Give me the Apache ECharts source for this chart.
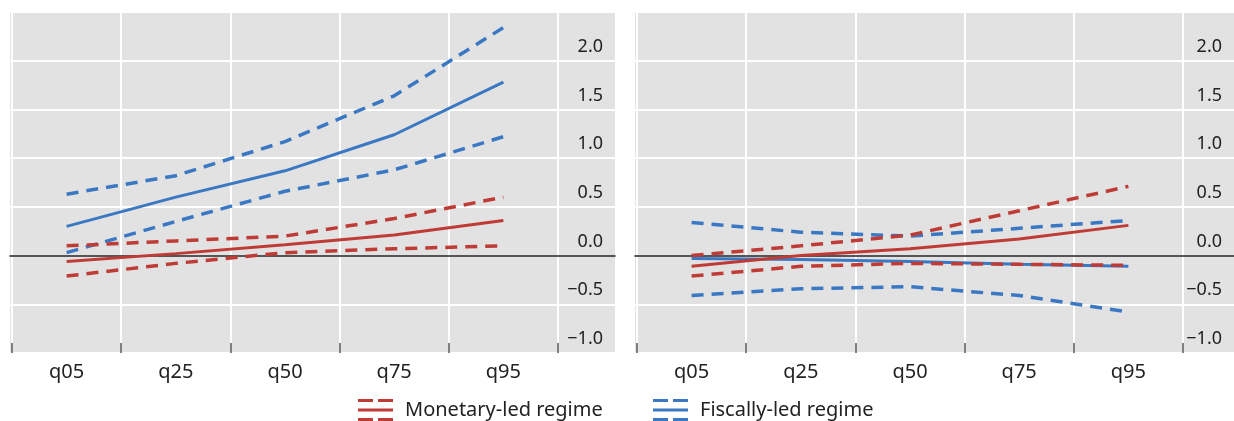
<!DOCTYPE html>
<html>
<head>
<meta charset="utf-8">
<script src="https://cdn.jsdelivr.net/npm/echarts@6/dist/echarts.min.js"></script>
<style>
  html, body { margin: 0; padding: 0; background: #ffffff; }
  #chart { width: 1234px; height: 421px; }
</style>
</head>
<body>
<div id="chart"></div>
<script>
// ---- Data ----
const categories = ['q05', 'q25', 'q50', 'q75', 'q95'];
const yTicks = [-1.0, -0.5, 0.0, 0.5, 1.0, 1.5, 2.0];

// Left panel
const leftFiscalMid       = [0.30, 0.60, 0.87, 1.24, 1.78];
const leftFiscalUpper     = [0.63, 0.82, 1.17, 1.64, 2.34];
const leftFiscalLower     = [0.03, 0.35, 0.66, 0.88, 1.22];
const leftMonetaryMid     = [-0.06, 0.02, 0.11, 0.21, 0.36];
const leftMonetaryUpper   = [0.10, 0.15, 0.20, 0.38, 0.60];
const leftMonetaryLower   = [-0.21, -0.08, 0.03, 0.07, 0.10];

// Right panel
const rightFiscalMid      = [-0.03, -0.04, -0.06, -0.09, -0.11];
const rightFiscalUpper    = [0.34, 0.24, 0.20, 0.28, 0.36];
const rightFiscalLower    = [-0.41, -0.34, -0.32, -0.41, -0.58];
const rightMonetaryMid    = [-0.11, 0.00, 0.07, 0.17, 0.31];
const rightMonetaryUpper  = [0.00, 0.10, 0.21, 0.46, 0.71];
const rightMonetaryLower  = [-0.21, -0.11, -0.08, -0.09, -0.10];

const MON = 'Monetary-led regime';
const FIS = 'Fiscally-led regime';

// ---- Style ----
const RED = '#bf3b35';
const BLUE = '#3b78c3';
const BG = '#e2e2e2';
const FONT = 'Noto Sans';
const TXT = '#222222';
const DASH = [12, 8];

function fmtY(v) {
  if (yTicks.indexOf(Math.round(v * 10) / 10) < 0) return '';
  const s = Math.abs(v).toFixed(1);
  return v < 0 ? '\u2212' + s : s;
}

function bgGrid(left) {
  return { left: left, top: 12, width: 605, height: 341, show: true, backgroundColor: BG, borderWidth: 0, containLabel: false };
}
function mainGrid(left) {
  return { left: left, top: 12, width: 546, height: 341, show: false, containLabel: false };
}

function bgX(gi) {
  return {
    type: 'value', gridIndex: gi, min: 0, max: 1, z: 3,
    axisLine: { show: true, onZero: true, lineStyle: { color: '#1e1e1e', width: 1.5 } },
    axisTick: { show: false }, axisLabel: { show: false }, splitLine: { show: false }
  };
}
function mainX(gi) {
  return {
    type: 'category', gridIndex: gi, data: categories, boundaryGap: true, position: 'bottom', z: 1,
    axisLine: { show: false, onZero: false },
    axisTick: { show: true, inside: true, length: 10, lineStyle: { color: '#555', width: 1.5 } },
    axisLabel: { show: true, fontFamily: FONT, fontSize: 20, color: TXT, margin: 9 },
    splitLine: { show: true, lineStyle: { color: '#ffffff', width: 2 } }
  };
}
function bgY(gi) {
  return {
    type: 'value', gridIndex: gi, min: -1, max: 2.5, interval: 0.5, position: 'right',
    axisLine: { show: false }, axisTick: { show: false },
    axisLabel: {
      show: true, inside: true, margin: 12, fontFamily: FONT, fontSize: 18, color: TXT,
      verticalAlign: 'bottom', padding: [0, 0, 5, 0], formatter: fmtY
    },
    splitLine: { show: true, lineStyle: { color: '#ffffff', width: 2 } }
  };
}
function mainY(gi) {
  return { type: 'value', gridIndex: gi, min: -1, max: 2.5, interval: 0.5, show: false, splitLine: { show: false } };
}

function line(name, data, color, dashed, axisIdx) {
  return {
    type: 'line', name: name, data: data, xAxisIndex: axisIdx, yAxisIndex: axisIdx,
    symbol: 'none', silent: true, z: 4,
    lineStyle: { color: color, width: dashed ? 3.5 : 3, type: dashed ? DASH : 'solid' },
    itemStyle: { color: color }
  };
}

const ICON = 'path://M0,0h15v3h-15z M20,0h15v3h-15z M0,9.5h35v3h-35z M0,19h15v3h-15z M20,19h15v3h-15z';

const option = {
  animation: false,
  backgroundColor: '#ffffff',
  grid: [bgGrid(10), mainGrid(12), bgGrid(635), mainGrid(637)],
  xAxis: [bgX(0), mainX(1), bgX(2), mainX(3)],
  yAxis: [bgY(0), mainY(1), bgY(2), mainY(3)],
  legend: [
    {
      left: 358, top: 399, padding: 0, itemWidth: 35, itemHeight: 22, icon: ICON, selectedMode: false,
      textStyle: { fontFamily: FONT, fontSize: 20, color: TXT, padding: [0, 0, 0, 7] },
      data: [{ name: MON, itemStyle: { color: RED, borderWidth: 0, borderColor: RED } }]
    },
    {
      left: 653, top: 399, padding: 0, itemWidth: 35, itemHeight: 22, icon: ICON, selectedMode: false,
      textStyle: { fontFamily: FONT, fontSize: 20, color: TXT, padding: [0, 0, 0, 7] },
      data: [{ name: FIS, itemStyle: { color: BLUE, borderWidth: 0, borderColor: BLUE } }]
    }
  ],
  series: [
    line(FIS, leftFiscalUpper, BLUE, true, 1),
    line(FIS, leftFiscalLower, BLUE, true, 1),
    line(FIS, leftFiscalMid, BLUE, false, 1),
    line(MON, leftMonetaryUpper, RED, true, 1),
    line(MON, leftMonetaryLower, RED, true, 1),
    line(MON, leftMonetaryMid, RED, false, 1),
    line(FIS, rightFiscalUpper, BLUE, true, 3),
    line(FIS, rightFiscalLower, BLUE, true, 3),
    line(FIS, rightFiscalMid, BLUE, false, 3),
    line(MON, rightMonetaryUpper, RED, true, 3),
    line(MON, rightMonetaryLower, RED, true, 3),
    line(MON, rightMonetaryMid, RED, false, 3)
  ]
};

const chart = echarts.init(document.getElementById('chart'), null, { renderer: 'canvas' });
chart.setOption(option);
</script>
</body>
</html>
